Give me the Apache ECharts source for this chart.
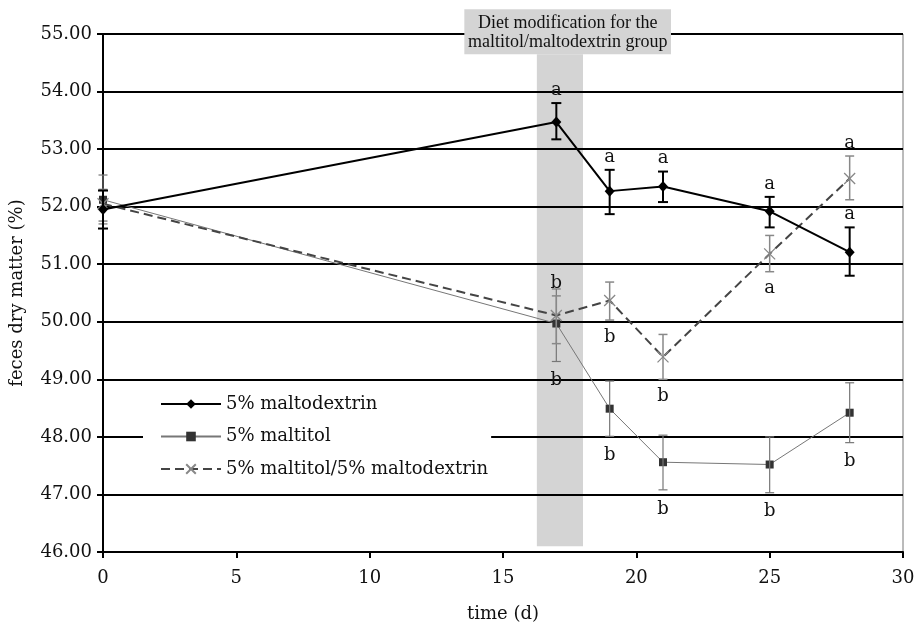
<!DOCTYPE html>
<html><head><meta charset="utf-8">
<script src="https://cdn.jsdelivr.net/npm/echarts@6/dist/echarts.min.js"></script>
<style>html,body{margin:0;padding:0;background:#fff}#c{width:916px;height:624px}</style>
</head><body><div id="c"></div>
<script>
const days = [0, 17, 19, 21, 25, 28];
const maltodextrin = [51.95, 53.47, 52.27, 52.35, 51.92, 51.21];
const maltodextrinHigh = [52.28, 53.80, 52.64, 52.61, 52.17, 51.64];
const maltodextrinLow = [51.62, 53.17, 51.87, 52.08, 51.64, 50.80];
const maltodextrinLetters = ['', 'a', 'a', 'a', 'a', 'a'];
const maltodextrinSides = ['top', 'top', 'top', 'top', 'top', 'top'];

const maltitol = [52.12, 49.97, 48.49, 47.56, 47.52, 48.42];
const maltitolHigh = [52.55, 50.57, 48.97, 48.03, 48.00, 48.94];
const maltitolLow = [51.70, 49.31, 48.01, 47.08, 47.03, 47.90];
const maltitolLetters = ['', 'b', 'b', 'b', 'b', 'b'];
const maltitolSides = ['bottom', 'bottom', 'bottom', 'bottom', 'bottom', 'bottom'];

const mix = [52.05, 50.11, 50.37, 49.39, 51.18, 52.49];
const mixHigh = [52.30, 50.45, 50.69, 49.78, 51.50, 52.88];
const mixLow = [51.75, 49.62, 50.03, 49.00, 50.87, 52.12];
const mixLetters = ['', 'b', 'b', 'b', 'a', 'a'];
const mixSides = ['top', 'top', 'bottom', 'bottom', 'bottom', 'top'];

const seriesNames = ['5% maltodextrin', '5% maltitol', '5% maltitol/5% maltodextrin'];
const bandX = [16.27, 18.0];
const bandY = [46.1, 54.65];
const noteX = [13.55, 21.3];
const noteY = [54.65, 55.43];
const noteText = 'Diet modification for the\nmaltitol/maltodextrin group';

const FONT = 'DejaVu Serif';

function errSeries(high, low, letters, sides, color, width, capW, z, below) {
  return {
    type: 'custom', z: z, clip: false, silent: true,
    data: days.map((d, i) => [d, low[i], high[i], i]),
    encode: { x: 0, y: [1, 2] },
    renderItem(params, api) {
      const i = api.value(3);
      const x = api.value(0);
      const lo = api.coord([x, api.value(1)]);
      const hi = api.coord([x, api.value(2)]);
      const st = { stroke: color, lineWidth: width };
      const children = [
        { type: 'line', shape: { x1: lo[0], y1: lo[1], x2: hi[0], y2: hi[1] }, style: st },
        { type: 'line', shape: { x1: lo[0] - capW / 2, y1: lo[1], x2: lo[0] + capW / 2, y2: lo[1] }, style: st },
        { type: 'line', shape: { x1: hi[0] - capW / 2, y1: hi[1], x2: hi[0] + capW / 2, y2: hi[1] }, style: st }
      ];
      const letter = letters[i];
      if (letter) {
        const top = sides[i] === 'top';
        children.push({
          type: 'text', x: hi[0], y: top ? hi[1] - 4 : lo[1] + below,
          style: { text: letter, fontFamily: FONT, fontSize: 18, fill: '#111', align: 'center', verticalAlign: top ? 'bottom' : 'top' }
        });
      }
      return { type: 'group', children };
    }
  };
}

const chart = echarts.init(document.getElementById('c'), null, { renderer: 'canvas' });
chart.setOption({
  animation: false,
  backgroundColor: '#fff',
  grid: { left: 103, right: 13, top: 34, bottom: 72, containLabel: false, outerBoundsMode: 'none',
          show: true, borderColor: '#777', borderWidth: 1, backgroundColor: 'transparent' },
  legend: {
    data: seriesNames,
    orient: 'vertical', left: 143, top: 389,
    itemWidth: 60, itemHeight: 12, itemGap: 14.5,
    padding: [6, 3, 6, 17], backgroundColor: '#fff',
    selectedMode: false,
    textStyle: { fontFamily: FONT, fontSize: 18, color: '#111', lineHeight: 18 }
  },
  xAxis: {
    type: 'value', min: 0, max: 30, interval: 5,
    name: 'time (d)', nameLocation: 'middle', nameGap: 53,
    nameTextStyle: { fontFamily: FONT, fontSize: 18, color: '#111' },
    axisLine: { show: true, lineStyle: { color: '#000', width: 2 } },
    axisTick: { show: true, length: 6, lineStyle: { color: '#000', width: 2 } },
    axisLabel: { fontFamily: FONT, fontSize: 18, color: '#111', margin: 17 },
    splitLine: { show: false }
  },
  yAxis: {
    type: 'value', min: 46, max: 55, interval: 1,
    name: 'feces dry matter (%)', nameLocation: 'middle', nameGap: 77,
    nameTextStyle: { fontFamily: FONT, fontSize: 18, color: '#111' },
    axisLine: { show: true, lineStyle: { color: '#000', width: 2 } },
    axisTick: { show: true, length: 6, lineStyle: { color: '#000', width: 2 } },
    axisLabel: { fontFamily: FONT, fontSize: 18, color: '#111', margin: 11, formatter: v => v.toFixed(2) },
    splitLine: { show: true, lineStyle: { color: '#000', width: 2 } }
  },
  series: [
    {
      type: 'custom', z: -1, clip: false, silent: true,
      data: [[bandX[0], bandY[0], bandX[1], bandY[1]]],
      encode: { x: [0, 2], y: [1, 3] },
      renderItem(params, api) {
        const a = api.coord([api.value(0), api.value(1)]);
        const b = api.coord([api.value(2), api.value(3)]);
        return { type: 'rect', shape: { x: a[0], y: b[1], width: b[0] - a[0], height: a[1] - b[1] }, style: { fill: '#d4d4d4' } };
      }
    },
    {
      type: 'custom', z: 10, clip: false, silent: true,
      data: [[noteX[0], noteY[0], noteX[1], noteY[1]]],
      encode: { x: [0, 2], y: [1, 3] },
      renderItem(params, api) {
        const a = api.coord([api.value(0), api.value(1)]);
        const b = api.coord([api.value(2), api.value(3)]);
        return {
          type: 'group', children: [
            { type: 'rect', shape: { x: a[0], y: b[1], width: b[0] - a[0], height: a[1] - b[1] }, style: { fill: '#d4d4d4' } },
            { type: 'text', x: (a[0] + b[0]) / 2, y: (a[1] + b[1]) / 2 + 1,
              style: { text: noteText, fontFamily: 'Liberation Serif', fontSize: 18, lineHeight: 19, fill: '#111', align: 'center', verticalAlign: 'middle' } }
          ]
        };
      }
    },
    {
      name: seriesNames[1], type: 'line', z: 3,
      data: days.map((d, i) => [d, maltitol[i]]),
      symbol: 'rect', symbolSize: 8,
      lineStyle: { color: '#777', width: 1 },
      itemStyle: { color: '#333' }
    },
    {
      name: seriesNames[2], type: 'line', z: 4,
      data: days.map((d, i) => [d, mix[i]]),
      symbol: 'path://M0,0L10,10M0,10L10,0', symbolSize: 11,
      lineStyle: { color: '#444', width: 2, type: [9, 5] },
      itemStyle: { color: '#888', borderColor: '#888', borderWidth: 1.3 }
    },
    {
      name: seriesNames[0], type: 'line', z: 5,
      data: days.map((d, i) => [d, maltodextrin[i]]),
      symbol: 'diamond', symbolSize: [10, 11],
      lineStyle: { color: '#000', width: 2 },
      itemStyle: { color: '#000' }
    },
    errSeries(maltitolHigh, maltitolLow, maltitolLetters, maltitolSides, '#777', 1.2, 9, 6, 10),
    errSeries(mixHigh, mixLow, mixLetters, mixSides, '#888', 1.5, 9, 6, 8),
    errSeries(maltodextrinHigh, maltodextrinLow, maltodextrinLetters, maltodextrinSides, '#000', 2, 10, 7, 8)
  ]
});
</script>
</body></html>
